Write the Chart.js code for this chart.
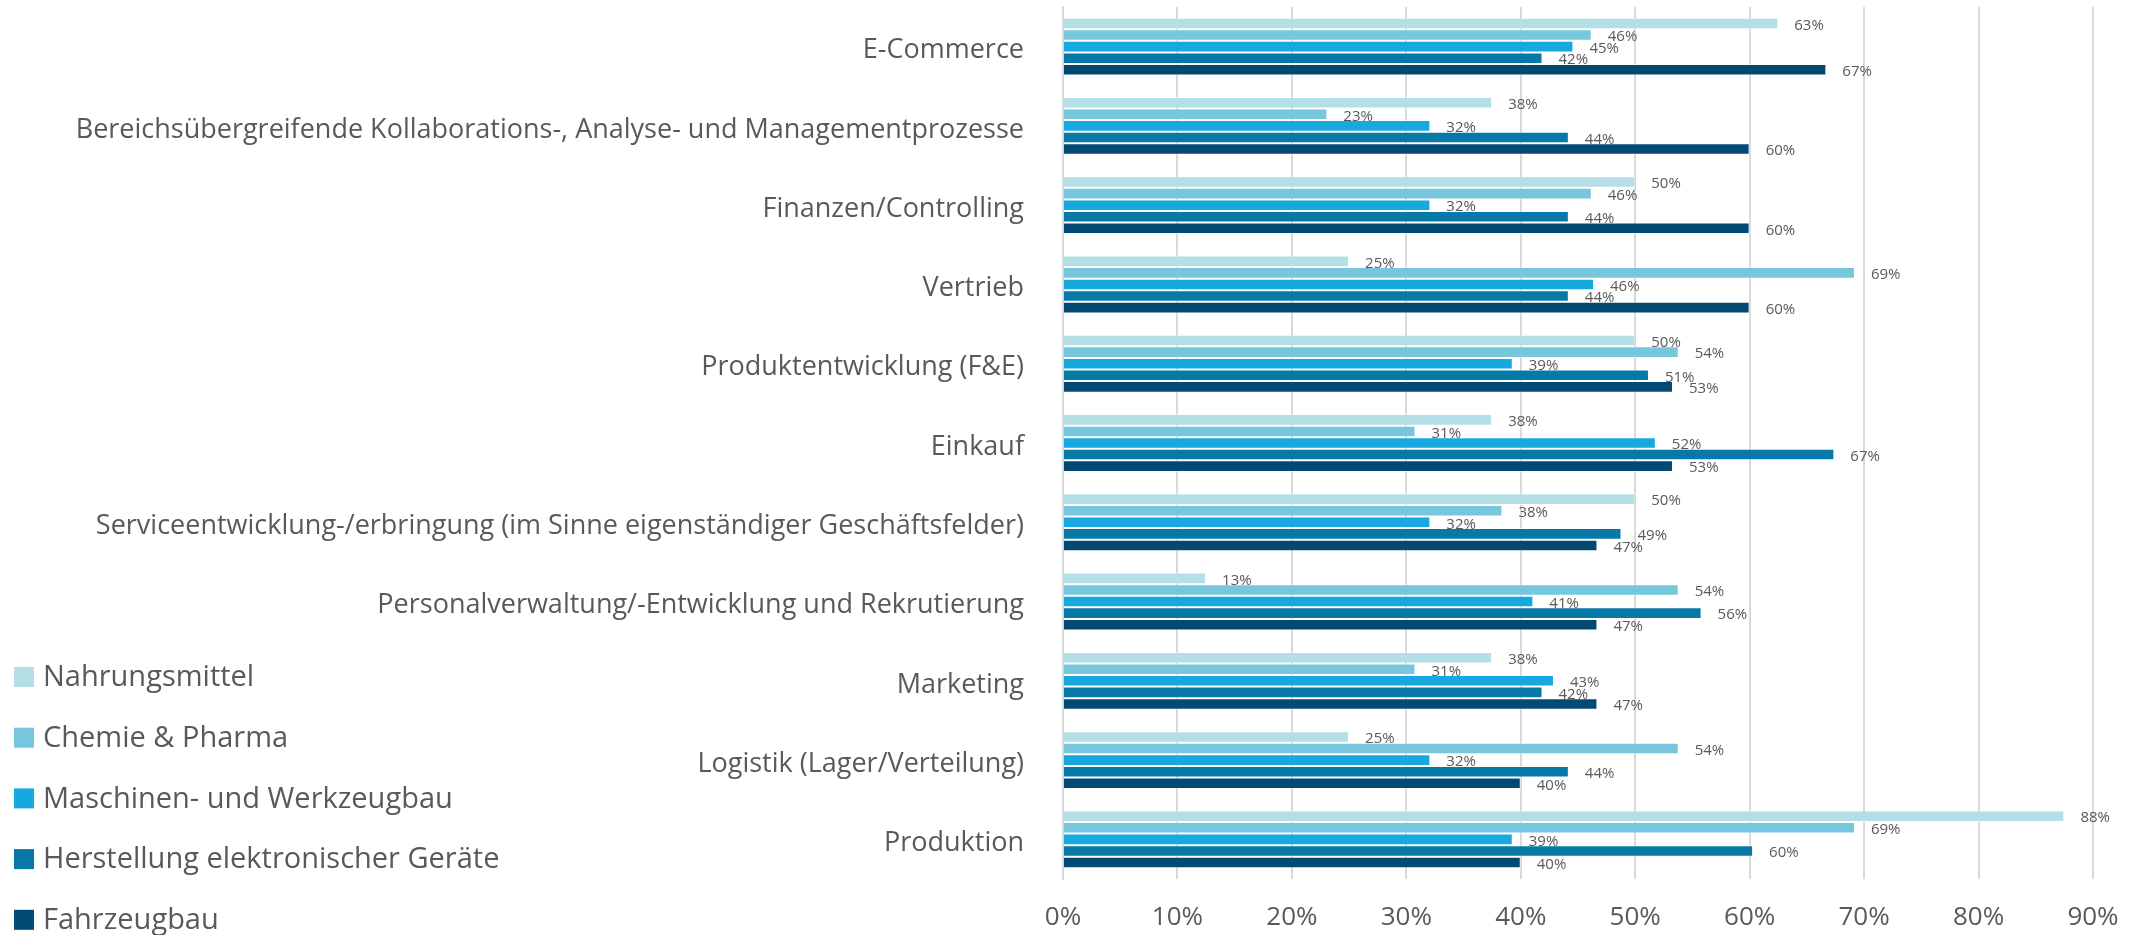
<!DOCTYPE html>
<html lang="de">
<head>
  <meta charset="UTF-8">
  <title>Bereiche</title>
  <script src="https://cdn.jsdelivr.net/npm/chart.js"></script>
  <style>
    * { box-sizing: border-box; margin: 0; padding: 0; }
    body { background: #fff; width: 2140px; height: 935px; overflow: hidden; }
    .chart-container { position: relative; width: 2140px; height: 935px; }
  </style>
</head>
<body>
  <div class="chart-container">
    <canvas id="bereicheChart"></canvas>
  </div>

  <script>
    // Kategorien (von oben nach unten)
    const categories = [
      'E-Commerce',
      'Bereichsübergreifende Kollaborations-, Analyse- und Managementprozesse',
      'Finanzen/Controlling',
      'Vertrieb',
      'Produktentwicklung (F&E)',
      'Einkauf',
      'Serviceentwicklung-/erbringung (im Sinne eigenständiger Geschäftsfelder)',
      'Personalverwaltung/-Entwicklung und Rekrutierung',
      'Marketing',
      'Logistik (Lager/Verteilung)',
      'Produktion'
    ];

    const seriesNames = [
      'Nahrungsmittel',
      'Chemie & Pharma',
      'Maschinen- und Werkzeugbau',
      'Herstellung elektronischer Geräte',
      'Fahrzeugbau'
    ];
    const seriesColors = ['#b5dfe6', '#76c7de', '#17a8e0', '#0779a7', '#024a74'];

    // Werte in %
    const nahrungsmittel = [62.5, 37.5, 50, 25, 50, 37.5, 50, 12.5, 37.5, 25, 87.5];
    const chemiePharma   = [46.2, 23.1, 46.2, 69.2, 53.8, 30.8, 38.4, 53.8, 30.8, 53.8, 69.2];
    const maschinenbau   = [44.6, 32.1, 32.1, 46.4, 39.3, 51.8, 32.1, 41.1, 42.9, 32.1, 39.3];
    const elektronik     = [41.9, 44.2, 44.2, 44.2, 51.2, 67.4, 48.8, 55.8, 41.9, 44.2, 60.3];
    const fahrzeugbau    = [66.7, 60, 60, 60, 53.3, 53.3, 46.7, 46.7, 46.7, 40, 40];
    const seriesValues = [nahrungsmittel, chemiePharma, maschinenbau, elektronik, fahrzeugbau];

    const xTicks = [0, 10, 20, 30, 40, 50, 60, 70, 80, 90];

    const FONT = "'Open Sans', 'Noto Sans', sans-serif";
    const TEXT = '#595959';

    // Prozentwerte neben den Balken
    const valueLabels = {
      id: 'valueLabels',
      afterDatasetsDraw(chart) {
        const ctx = chart.ctx;
        ctx.save();
        ctx.font = '15px ' + FONT;
        ctx.fillStyle = TEXT;
        ctx.textAlign = 'left';
        ctx.textBaseline = 'middle';
        chart.data.datasets.forEach((ds, i) => {
          chart.getDatasetMeta(i).data.forEach((bar, j) => {
            ctx.fillText(Math.round(ds.data[j]) + '%', bar.x + 16, bar.y + 2);
          });
        });
        ctx.restore();
      }
    };

    // Legende unten links
    const sideLegend = {
      id: 'sideLegend',
      afterDraw(chart) {
        const ctx = chart.ctx;
        ctx.save();
        ctx.font = '29px ' + FONT;
        ctx.textBaseline = 'middle';
        ctx.textAlign = 'left';
        chart.data.datasets.forEach((ds, i) => {
          const y = 677 + i * 60.7;
          ctx.fillStyle = ds.backgroundColor;
          ctx.fillRect(14, y - 10, 20, 20);
          ctx.fillStyle = TEXT;
          ctx.fillText(ds.label, 43, y + 1);
        });
        ctx.restore();
      }
    };

    const datasets = seriesNames.map((name, i) => ({
      label: name,
      data: seriesValues[i],
      backgroundColor: seriesColors[i],
      borderColor: 'rgba(255,255,255,0.45)',
      borderWidth: 1,
      barPercentage: 1,
      categoryPercentage: 0.73
    }));

    new Chart(document.getElementById('bereicheChart'), {
      type: 'bar',
      data: { labels: categories, datasets: datasets },
      options: {
        indexAxis: 'y',
        responsive: true,
        maintainAspectRatio: false,
        animation: false,
        layout: { padding: { top: 7, right: 47, bottom: 0, left: 0 } },
        plugins: {
          legend: { display: false },
          tooltip: { enabled: false }
        },
        scales: {
          x: {
            min: 0,
            max: 90,
            afterFit(scale) { scale.height = 56; scale.paddingLeft = 0; scale.paddingRight = 0; },
            afterBuildTicks(scale) { scale.ticks = xTicks.map(v => ({ value: v })); },
            grid: { color: '#d9d9d9', lineWidth: 2, drawTicks: false },
            border: { display: false },
            ticks: {
              padding: 23,
              color: TEXT,
              font: { family: FONT, size: 26 },
              callback: v => v + '%'
            }
          },
          y: {
            afterFit(scale) { scale.width = 1063; scale.paddingTop = 0; scale.paddingBottom = 0; },
            grid: { display: false, drawTicks: false },
            border: { display: true, color: '#d9d9d9', width: 2 },
            ticks: {
              padding: 39,
              labelOffset: 4,
              color: TEXT,
              autoSkip: false,
              font: { family: FONT, size: 27 }
            }
          }
        }
      },
      plugins: [valueLabels, sideLegend]
    });
  </script>
</body>
</html>
